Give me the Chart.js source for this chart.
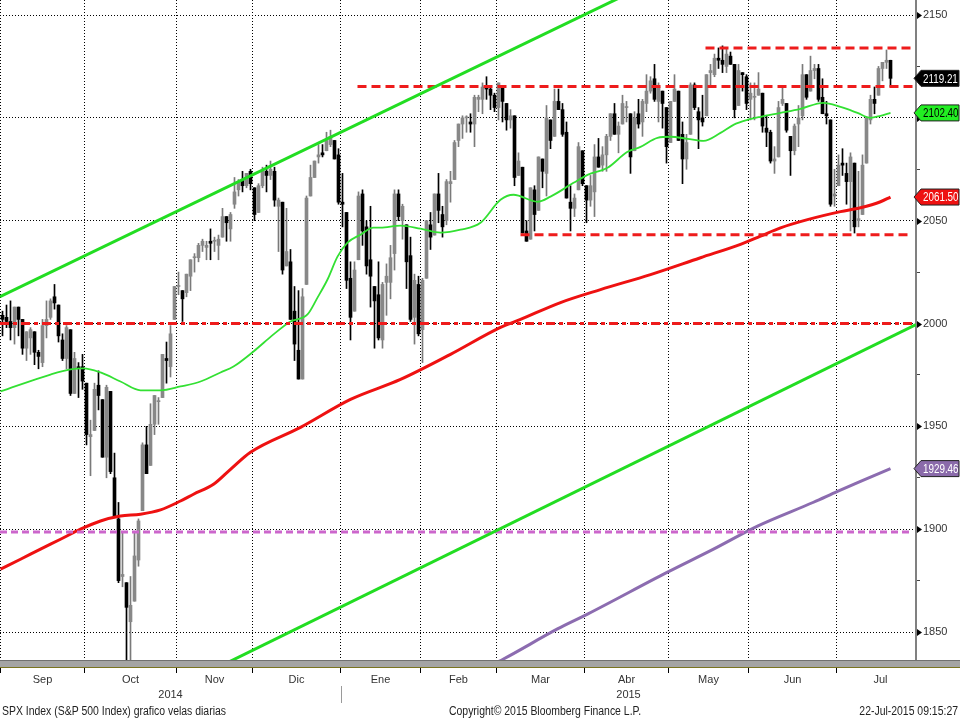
<!DOCTYPE html>
<html>
<head>
<meta charset="utf-8">
<title>SPX Index - velas diarias</title>
<script src="https://cdn.jsdelivr.net/npm/chart.js@4.4.1/dist/chart.umd.min.js"></script>
<style>
  html, body { margin: 0; padding: 0; background: #fff; }
  canvas { display: block; }
</style>
</head>
<body>
<canvas id="chart" width="960" height="720"></canvas>
<script>
// SPX daily candles, one entry per trading day (2 Sep 2014 .. 21 Jul 2015)
const open = [
  2004,2003,2001,1998,2008,2002,1988,1993,1996,1986,1981,1999,2003,2013,2009,1992,1983,1997,1966,1979,1979, // Sep
  1971,1945,1948,1970,1963,1935,1967,1925,1905,1877,1874,1855,1865,1885,1909,1941,1931,1951,1962,1964,1983,1979,2002, // Oct
  2018,2016,2015,2023,2032,2032,2038,2037,2040,2040,2038,2042,2052,2046,2058,2065,2070,2067,2074, // Nov
  2066,2054,2067,2074,2072,2074,2057,2059,2028,2030,2006,1987,1973,2019,2062,2071,2081,2083,2084,2087,2089,2082, // Dic
  2059,2054,2022,2006,2031,2063,2047,2031,2018,2014,1992,2020,2020,2034,2063,2050,2048,2033,2003,2019, // Ene
  1997,2022,2048,2043,2063,2053,2050,2068,2070,2089,2097,2100,2098,2097,2109,2109,2115,2114,2111, // Feb
  2105,2115,2107,2099,2101,2072,2076,2045,2041,2065,2055,2080,2073,2099,2091,2108,2104,2093,2059,2056,2065,2084, // Mar
  2067,2060,2064,2081,2077,2082,2091,2102,2092,2097,2105,2102,2084,2102,2098,2107,2113,2119,2108,2113,2105, // Abr
  2088,2108,2113,2092,2080,2092,2116,2103,2100,2101,2122,2121,2129,2128,2125,2130,2126,2106,2122,2120, // May
  2109,2110,2111,2112,2095,2093,2079,2081,2107,2107,2091,2084,2097,2101,2121,2113,2123,2124,2110,2102,2099,2062, // Jun
  2067,2078,2073,2069,2078,2050,2053,2078,2099,2109,2111,2124,2127,2128 // Jul
];
const high = [
  2006,2009,2011,2008,2008,2002,1996,1998,1996,1987,2002,2011,2012,2019,2009,1995,1999,1997,1986,1981,1985,
  1971,1953,1971,1977,1963,1970,1967,1937,1913,1898,1874,1877,1898,1905,1942,1950,1961,1965,1964,1985,1991,1999,2018,
  2025,2016,2024,2031,2034,2039,2041,2040,2046,2042,2043,2056,2052,2054,2071,2070,2074,2073,2075,
  2066,2068,2076,2077,2079,2076,2061,2059,2056,2036,2018,2016,2017,2062,2077,2079,2087,2087,2093,2094,2089,2085,
  2073,2054,2030,2030,2064,2065,2050,2057,2018,2030,2020,2029,2038,2065,2065,2058,2048,2042,2024,2023,
  2022,2050,2054,2063,2073,2057,2070,2074,2089,2097,2101,2101,2102,2111,2111,2117,2120,2115,2112,
  2117,2115,2107,2104,2101,2083,2076,2050,2066,2067,2081,2080,2106,2099,2114,2114,2107,2098,2067,2063,2088,2084,
  2067,2072,2087,2090,2086,2092,2102,2107,2098,2111,2108,2102,2103,2109,2109,2121,2120,2126,2117,2113,2105,
  2108,2121,2113,2098,2092,2117,2117,2105,2111,2121,2126,2131,2134,2135,2134,2132,2126,2126,2122,2121,
  2117,2117,2122,2112,2101,2094,2086,2108,2115,2107,2091,2097,2106,2126,2121,2130,2126,2126,2119,2108,2099,2075,
  2082,2085,2078,2083,2078,2074,2082,2100,2111,2115,2125,2127,2133,2128
];
const low = [
  1994,1998,1992,1990,1994,1985,1982,1985,1980,1978,1979,1993,2002,2007,1991,1982,1978,1965,1966,1964,1968,
  1941,1926,1948,1958,1935,1925,1927,1906,1874,1872,1821,1835,1865,1882,1909,1927,1931,1946,1951,1964,1971,1974,2002,
  2014,2001,2013,2016,2025,2030,2035,2031,2031,2035,2031,2042,2040,2040,2056,2062,2064,2066,2065,
  2050,2054,2066,2064,2070,2057,2035,2024,2028,2002,1982,1973,1973,2019,2062,2071,2078,2081,2084,2086,2080,2058,
  2047,2017,1992,2006,2031,2038,2024,2008,1988,1992,1988,2004,2012,2026,2050,2041,2017,2001,1990,1994,
  1981,2022,2036,2043,2049,2042,2048,2059,2070,2086,2090,2093,2093,2086,2103,2102,2109,2104,2103,
  2099,2098,2094,2095,2067,2072,2044,2040,2041,2045,2055,2066,2062,2085,2091,2104,2091,2061,2045,2052,2065,2067,
  2049,2057,2052,2076,2074,2074,2089,2092,2083,2097,2098,2073,2084,2095,2091,2103,2112,2108,2098,2095,2078,
  2088,2108,2089,2068,2075,2092,2104,2085,2096,2101,2116,2120,2124,2122,2122,2126,2100,2106,2113,2104,
  2099,2099,2111,2093,2086,2078,2073,2081,2106,2093,2072,2082,2086,2099,2109,2113,2119,2108,2102,2097,2057,2057,
  2067,2072,2058,2045,2044,2047,2053,2078,2097,2102,2111,2118,2124,2115
];
const close = [
  2002,2001,1998,2008,2002,1988,1996,1997,1986,1984,1999,2002,2011,2010,1994,1983,1998,1966,1983,1978,1972,
  1946,1946,1968,1965,1935,1969,1928,1906,1875,1878,1862,1863,1887,1904,1941,1927,1951,1965,1962,1985,1982,1995,2018,
  2018,2012,2024,2031,2032,2038,2040,2038,2039,2040,2041,2052,2049,2053,2064,2069,2067,2073,2068,
  2053,2067,2074,2072,2075,2060,2060,2026,2035,2002,1990,1973,2013,2061,2071,2079,2082,2082,2089,2091,2080,2059,
  2058,2021,2003,2026,2062,2045,2028,2023,2011,1993,2019,2023,2032,2063,2052,2057,2030,2002,2021,1995,
  2021,2050,2042,2063,2055,2047,2069,2069,2088,2097,2100,2100,2097,2110,2110,2115,2114,2111,2105,
  2117,2108,2099,2101,2071,2079,2044,2040,2066,2053,2081,2074,2100,2089,2108,2104,2092,2061,2056,2061,2086,2068,
  2060,2067,2081,2076,2082,2091,2102,2092,2096,2107,2105,2081,2100,2097,2108,2113,2118,2109,2115,2107,2086,
  2108,2114,2089,2080,2088,2116,2105,2099,2098,2121,2123,2129,2128,2126,2131,2126,2104,2123,2121,2107,
  2112,2110,2114,2096,2093,2079,2080,2105,2109,2094,2084,2096,2100,2121,2110,2123,2124,2109,2102,2101,2058,2063,
  2077,2077,2069,2081,2047,2051,2077,2100,2109,2107,2124,2127,2128,2119.21
];

// moving averages: [trading day index, value]
const ma50 = [
  [-0.5,1967.0],[12,1975.2],[17,1977.7],[20.25,1978.2],[24.5,1976.2],[29.5,1971.8],[34.5,1967.5],[39.5,1967.5],
  [44.5,1969.4],[49.5,1971.8],[54.5,1976.2],[57.75,1979.1],[62.75,1986.4],[67.75,1994.7],[72,2001.0],[76.25,2004.4],
  [78.75,2012.6],[81.25,2021.4],[83.75,2032.5],[86.25,2039.3],[89.5,2043.2],[92.75,2046.6],[94.5,2046.6],[99.5,2047.6],
  [104.5,2046.1],[109.5,2044.2],[114.5,2045.6],[119.5,2049.0],[124.5,2060.2],[127.75,2062.6],[133.75,2059.2],[137,2061.7],
  [142.75,2068.4],[146.25,2072.3],[151.25,2075.7],[156.25,2083.5],[159.5,2085.9],[163.75,2090.3],[167,2090.8],[171.25,2089.8],
  [175.25,2088.8],[179.5,2092.7],[182.75,2096.6],[186.25,2099.0],[189.5,2100.5],[194.5,2102.4],[199.5,2104.4],[205.25,2107.3],
  [209.5,2105.3],[213.75,2102.4],[217,2100.0],[219.5,2101.0],[222,2102.40]
];
const ma200 = [
  [-0.5,1880.6],[4.5,1885.4],[9.5,1890.3],[14.5,1895.1],[19.5,1900.0],[24.5,1904.0],[29.5,1906.4],[34.5,1907.3],
  [39.5,1909.4],[44.5,1913.7],[47.75,1917.0],[52.75,1921.8],[57,1929.1],[62,1937.4],[74.5,1949.5],[87,1963.1],
  [99.5,1972.8],[112,1985.0],[124.5,1998.1],[129.5,2002.0],[139.5,2010.2],[149.5,2016.5],[162,2023.8],[174.5,2032.0],
  [184.5,2038.5],[189.5,2042.5],[194.5,2046.5],[201.25,2050.5],[209.5,2054.4],[214.5,2056.3],[219.5,2059.2],[222,2061.50]
];
const maLong = [
  [115,1827.0],[125.25,1836.9],[138.75,1851.5],[146.25,1858.7],[166.25,1879.1],[177.75,1890.3],
  [188.75,1901.5],[202.75,1913.1],[208.75,1918.4],[214.5,1923.3],[222,1929.46]
];

// trend channel and horizontal levels
const channelUpper = [[-0.625,2013.1],[228.375,2227.9]];
const channelLower = [[-0.625,1780.8],[228.375,1999.5]];
const levelValue = [2134, 2115.2, 2043.2, 2000, 1898.6];
const levelFrom = [175.75, 88.75, 129.5, -0.625, -0.625];
const levelTo = [227.5, 227.5, 227.5, 227.5, 227.5];

// axes
const monthNames = ['Sep','Oct','Nov','Dic','Ene','Feb','Mar','Abr','May','Jun','Jul'];
const monthStart = [0, 21, 44, 63, 85, 105, 124, 146, 167, 187, 209];
const monthDays = [21, 23, 19, 22, 20, 19, 22, 21, 20, 22, 22];
const yearNames = ['2014', '2015'];
const yearFrom = [-0.5, 84.5];
const yearTo = [84.5, 228.5];
const yTicks = [1850,1875,1900,1925,1950,1975,2000,2025,2050,2075,2100,2125,2150];

const FONT = '"Liberation Sans", Arial, sans-serif';
const X_MIN = -0.625, X_MAX = 228.375;

const isUp = close.map((c, i) => c >= open[i]);
const wickData = close.map((c, i) => ({x: i, y: [low[i], high[i]]}));
const bodyData = close.map((c, i) => ({x: i, y: [open[i], c]}));
const pts = arr => arr.map(p => ({x: p[0], y: p[1]}));
const levelPts = k => [{x: levelFrom[k], y: levelValue[k]}, {x: levelTo[k], y: levelValue[k]}];
const monthMid = monthStart.map((s, i) => s - 0.5 + monthDays[i] / 2);
const yearMid = yearFrom.map((f, i) => (f + yearTo[i]) / 2);

function lineDs(data, color, width, dash) {
  return {
    type: 'line', data: data, borderColor: color, borderWidth: width,
    borderDash: dash || [], pointRadius: 0, fill: false, clip: 0, order: 0,
    cubicInterpolationMode: 'monotone'
  };
}

// condensed text, the terminal font is narrower than Liberation Sans
function narrowText(ctx, text, x, y, align, squeeze) {
  ctx.save();
  ctx.translate(x, y);
  ctx.scale(squeeze, 1);
  ctx.textAlign = align;
  ctx.fillText(text, 0, 0);
  ctx.restore();
}

// tags, arrows, band and footer in Bloomberg style
const bbgDecor = {
  id: 'bbgDecor',
  afterDraw(chart) {
    const {ctx, chartArea: a, scales: {y, xYear}} = chart;
    ctx.save();

    // grey band under the plot
    ctx.fillStyle = '#a4a4a4';
    ctx.fillRect(0, a.bottom, chart.width, 7);
    ctx.fillStyle = '#707070';
    ctx.fillRect(0, a.bottom, chart.width, 1);
    ctx.fillStyle = '#7a7420';
    ctx.fillRect(0, a.bottom + 7, chart.width, 1);

    // arrows on the labelled y ticks
    ctx.fillStyle = '#000';
    yTicks.filter(v => v % 50 === 0).forEach(v => {
      const py = Math.round(y.getPixelForValue(v)) + 0.5;
      ctx.beginPath();
      ctx.moveTo(a.right + 1, py - 3.5);
      ctx.lineTo(a.right + 6, py);
      ctx.lineTo(a.right + 1, py + 3.5);
      ctx.closePath();
      ctx.fill();
    });

    // last value tags
    const tag = (value, bg, fg) => {
      const py = y.getPixelForValue(value);
      ctx.beginPath();
      ctx.moveTo(a.right - 2, py);
      ctx.lineTo(a.right + 5, py - 8);
      ctx.lineTo(chart.width - 1, py - 8);
      ctx.lineTo(chart.width - 1, py + 8);
      ctx.lineTo(a.right + 5, py + 8);
      ctx.closePath();
      ctx.fillStyle = bg;
      ctx.fill();
      ctx.strokeStyle = '#222';
      ctx.lineWidth = 1;
      ctx.stroke();
      ctx.fillStyle = fg;
      ctx.font = '12px ' + FONT;
      ctx.textBaseline = 'middle';
      narrowText(ctx, value.toFixed(2), a.right + 7, py + 1, 'left', 0.82);
    };
    tag(close[close.length - 1], '#000000', '#ffffff');
    tag(ma50[ma50.length - 1][1], '#22ee22', '#000000');
    tag(ma200[ma200.length - 1][1], '#ee1111', '#ffffff');
    tag(maLong[maLong.length - 1][1], '#8a6aaa', '#ffffff');

    // year separator
    const sx = Math.round(xYear.getPixelForValue(yearTo[0])) + 0.5;
    ctx.strokeStyle = '#9a9a9a';
    ctx.lineWidth = 1;
    ctx.beginPath();
    ctx.moveTo(sx, xYear.top - 2);
    ctx.lineTo(sx, xYear.bottom);
    ctx.stroke();

    // footer
    ctx.fillStyle = '#222';
    ctx.font = '12px ' + FONT;
    ctx.textBaseline = 'middle';
    narrowText(ctx, 'SPX Index (S&P 500 Index) grafico velas diarias', 2, 712, 'left', 0.87);
    narrowText(ctx, 'Copyright\u00a9 2015 Bloomberg Finance L.P.', 449, 712, 'left', 0.87);
    narrowText(ctx, '22-Jul-2015 09:15:27', 958, 712, 'right', 0.87);
    ctx.restore();
  }
};

new Chart(document.getElementById('chart'), {
  type: 'bar',
  data: {
    datasets: [
      lineDs(pts(channelUpper), '#22dd22', 3),
      lineDs(pts(channelLower), '#22dd22', 3),
      lineDs(levelPts(0), '#ee1c1c', 3, [9, 5]),
      lineDs(levelPts(1), '#ee1c1c', 3, [9, 5]),
      lineDs(levelPts(2), '#ee1c1c', 3, [9, 5]),
      lineDs(levelPts(3), '#ee1c1c', 3, [9, 4, 4, 4]),
      lineDs(levelPts(4), '#cc66cc', 3, [7, 4]),
      lineDs(pts(maLong), '#8c6cb0', 3),
      lineDs(pts(ma200), '#ee1111', 3),
      lineDs(pts(ma50), '#33e033', 1.8),
      {
        type: 'bar', data: bodyData, grouped: false, order: 1,
        backgroundColor: isUp.map(u => u ? '#888888' : '#000000'),
        barThickness: 3, minBarLength: 1, borderWidth: 0
      },
      {
        type: 'bar', data: wickData, grouped: false, order: 2,
        backgroundColor: isUp.map(u => u ? '#7a7a7a' : '#000000'),
        barThickness: 1, borderWidth: 0
      }
    ]
  },
  options: {
    responsive: false,
    animation: false,
    events: [],
    layout: { padding: { left: 0, right: 0, top: 0, bottom: 17 } },
    plugins: { legend: { display: false }, tooltip: { enabled: false } },
    scales: {
      x: {
        type: 'linear', position: 'bottom', weight: 0, min: X_MIN, max: X_MAX, offset: false,
        afterBuildTicks: s => { s.ticks = monthStart.map(v => ({value: v - 0.5})); },
        afterFit: s => { s.height = 13; s.paddingLeft = 0; s.paddingRight = 0; },
        grid: { color: '#000', offset: false, tickLength: 13, tickColor: '#000', tickBorderDash: [] },
        border: { display: false, dash: [1, 2] },
        ticks: { display: false }
      },
      xMonth: {
        type: 'linear', position: 'bottom', weight: 1, min: X_MIN, max: X_MAX, offset: false,
        afterBuildTicks: s => { s.ticks = monthMid.map(v => ({value: v})); },
        afterFit: s => { s.height = 15; s.paddingLeft = 0; s.paddingRight = 0; },
        grid: { display: false, drawTicks: false },
        border: { display: false },
        ticks: { padding: 0, autoSkip: false, maxRotation: 0, color: '#333', font: { family: FONT, size: 11 },
                 callback: (v, i) => monthNames[i] }
      },
      xYear: {
        type: 'linear', position: 'bottom', weight: 2, min: X_MIN, max: X_MAX, offset: false,
        afterBuildTicks: s => { s.ticks = yearMid.map(v => ({value: v})); },
        afterFit: s => { s.height = 15; s.paddingLeft = 0; s.paddingRight = 0; },
        grid: { display: false, drawTicks: false },
        border: { display: false },
        ticks: { padding: 0, autoSkip: false, maxRotation: 0, color: '#333', font: { family: FONT, size: 11 },
                 callback: (v, i) => yearNames[i] }
      },
      y: {
        position: 'right', min: 1836.4, max: 2157.3, beginAtZero: false,
        afterBuildTicks: s => { s.ticks = yTicks.map(v => ({value: v})); },
        afterFit: s => { s.width = 44; s.paddingTop = 0; s.paddingBottom = 0; },
        grid: {
          color: c => (c.tick && c.tick.value % 50 === 0) ? '#000' : 'rgba(0,0,0,0)',
          tickLength: 4, tickBorderDash: [],
          tickColor: c => (c.tick && c.tick.value % 50 === 0) ? 'rgba(0,0,0,0)' : '#444'
        },
        border: { color: '#808080', width: 2, dash: [1, 2] },
        ticks: { padding: 3, autoSkip: false, color: '#333', font: { family: FONT, size: 11 },
                 callback: v => v % 50 === 0 ? String(v) : '' }
      }
    }
  },
  plugins: [bbgDecor]
});
</script>
</body>
</html>
